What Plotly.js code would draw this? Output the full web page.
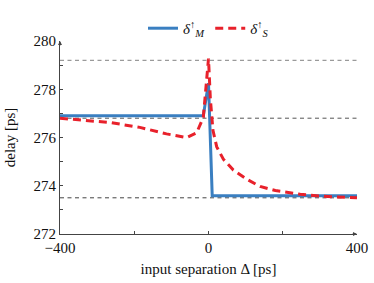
<!DOCTYPE html>
<html><head><meta charset="utf-8">
<script src="https://cdn.plot.ly/plotly-3.0.1.min.js"></script>
<style>html,body{margin:0;padding:0;background:#fff}#c{width:374px;height:283px}</style>
</head><body><div id="c"></div>
<script>
// Data
const blueX = [-400, -14, 0, 10, 400];
const blueY = [276.9, 276.9, 278.25, 273.59, 273.59];
const redX = [-400, -340, -265, -185, -113, -59, -32, -14, -5, 0, 5, 12, 22, 40, 67, 103, 139, 180, 247, 300, 400];
const redY = [276.8, 276.73, 276.62, 276.42, 276.15, 276.0, 276.19, 276.83, 278.3, 279.27, 277.6, 276.3, 275.62, 275.1, 274.65, 274.27, 273.97, 273.8, 273.65, 273.57, 273.5];
const refLines = [279.2, 276.8, 273.5];
const refColors = ['#9a9a9a', '#555555', '#444444'];
const xTicks = [-400, 0, 400];
const xTickText = ['\u2212400', '0', '400'];
const yTicks = [272, 274, 276, 278, 280];

const font = {family: 'Liberation Serif, Times New Roman, serif', size: 15, color: '#111'};

const traces = [
  {x: blueX, y: blueY, mode: 'lines', name: '<i>δ</i><sup>↑</sup><sub><i>M</i></sub>',
   line: {color: '#3a7fc1', width: 3}},
  {x: redX, y: redY, mode: 'lines', name: '<i>δ</i><sup>↑</sup><sub><i>S</i></sub>',
   line: {color: '#e8212b', width: 3, dash: '8px,5px'}}
];

const shapes = refLines.map((v, i) => ({type: 'line', xref: 'paper', x0: 0, x1: 1, yref: 'y', y0: v, y1: v,
  line: {color: refColors[i], width: i === 0 ? 1.3 : 1, dash: '4px,3.5px'}, layer: 'below'}));

const layout = {
  width: 374, height: 283,
  margin: {l: 60, r: 17, t: 26, b: 49},
  paper_bgcolor: '#fff', plot_bgcolor: '#fff',
  font: font,
  showlegend: true,
  legend: {orientation: 'h', x: 0.5, xanchor: 'center', y: 1.065, yanchor: 'middle',
    font: {family: font.family, size: 15}, bgcolor: 'rgba(0,0,0,0)', tracegroupgap: 0},
  xaxis: {range: [-400, 400], tickvals: xTicks, ticktext: xTickText, showgrid: false, zeroline: false,
    showline: true, linecolor: '#444', linewidth: 1, ticks: 'inside', ticklen: 3, tickcolor: '#444',
    minor: {dtick: 200, tick0: 0, ticks: 'inside', ticklen: 3, tickcolor: '#444'},
    title: {text: 'input separation Δ [ps]', font: font, standoff: 8}, tickfont: font, automargin: false},
  yaxis: {range: [272, 280], tickvals: yTicks, showgrid: false, zeroline: false,
    showline: true, linecolor: '#444', linewidth: 1, ticks: 'inside', ticklen: 3, tickcolor: '#444',
    minor: {dtick: 1, tick0: 272, ticks: 'inside', ticklen: 3, tickcolor: '#444'},
    title: {text: 'delay [ps]', font: font, standoff: 14}, tickfont: font, automargin: false},
  shapes: shapes,
  annotations: [
    {xref: 'paper', yref: 'paper', x: 1.0, y: 0, ax: -6, ay: 0, axref: 'pixel', ayref: 'pixel',
     showarrow: true, arrowhead: 2, arrowsize: 0.8, arrowwidth: 1, arrowcolor: '#444', text: ''},
    {xref: 'paper', yref: 'paper', x: 0, y: 1.0, ax: 0, ay: 6, showarrow: true, arrowhead: 2,
     arrowsize: 0.8, arrowwidth: 1, arrowcolor: '#444', text: ''}
  ]
};

Plotly.newPlot('c', traces, layout, {displayModeBar: false, staticPlot: true});
</script></body></html>
